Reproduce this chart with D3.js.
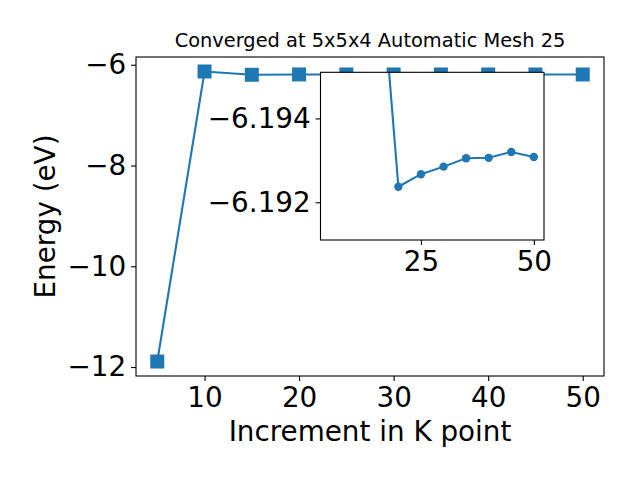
<!DOCTYPE html>
<html>
<head>
<meta charset="utf-8">
<script src="https://cdn.jsdelivr.net/npm/d3@7"></script>
<style>
  body { margin: 0; background: #fff; }
  text { font-family: "DejaVu Sans", sans-serif; fill: #000; }
  .axis path, .axis line { stroke: #000; stroke-width: 1.1; }
</style>
</head>
<body>
<div id="chart"></div>
<script>
// k point increments and total energies (eV)
var kpoints = [5, 10, 15, 20, 25, 30, 35, 40, 45, 50];
var energy = [-11.89, -6.134, -6.199, -6.19237, -6.19267, -6.19285, -6.19305, -6.19306, -6.19320, -6.19308];
var xTicks = [10, 20, 30, 40, 50];
var yTicks = [-12, -10, -8, -6];
var insetStart = 15;   // inset only plots from this k point on
var insetXTicks = [25, 50];
var insetYTicks = [-6.194, -6.192];
var insetYRange = [-6.1951, -6.1911];

var data = kpoints.map(function(k, i) { return {k: k, e: energy[i]}; });
var insetData = data.filter(function(d) { return d.k >= insetStart; });

var margin = {top: 57, right: 36, bottom: 104, left: 136},
    width = 640 - margin.left - margin.right,
    height = 480 - margin.top - margin.bottom;

var blue = "#1f77b4";

var svg = d3.select("#chart")
    .append("svg")
        .attr("width", 640)
        .attr("height", 480)
    .append("g")
        .attr("transform", "translate(" + margin.left + "," + margin.top + ")");

// matplotlib style 5% margins
var xExt = d3.extent(kpoints), yExt = d3.extent(energy);
var xPad = (xExt[1] - xExt[0]) * 0.05, yPad = (yExt[1] - yExt[0]) * 0.05;

var x = d3.scaleLinear().domain([xExt[0] - xPad, xExt[1] + xPad]).range([0, width]);
var y = d3.scaleLinear().domain([yExt[0] - yPad, yExt[1] + yPad]).range([height, 0]);

var line = d3.line()
    .x(function(d) { return x(d.k); })
    .y(function(d) { return y(d.e); });

svg.append("path")
    .attr("d", line(data))
    .style("fill", "none")
    .style("stroke", blue)
    .style("stroke-width", 2.1);

svg.selectAll(".sq")
    .data(data)
    .enter().append("path")
        .attr("class", "sq")
        .attr("transform", function(d) { return "translate(" + x(d.k) + "," + y(d.e) + ")"; })
        .attr("d", d3.symbol().type(d3.symbolSquare).size(196))
        .style("fill", blue);

svg.append("g")
    .attr("class", "axis")
    .attr("transform", "translate(0," + height + ")")
    .call(d3.axisBottom(x).tickValues(xTicks).tickSize(4.9).tickPadding(4.9))
    .call(function(g) { g.select(".domain").remove(); })
    .selectAll("text").style("font-size", "27.8px").attr("dy", "0.76em");

svg.append("g")
    .attr("class", "axis")
    .call(d3.axisLeft(y).tickValues(yTicks).tickFormat(d3.format("d")).tickSize(4.9).tickPadding(4.9))
    .call(function(g) { g.select(".domain").remove(); })
    .selectAll("text").style("font-size", "27.8px");

svg.append("rect")
    .attr("width", width)
    .attr("height", height)
    .style("fill", "none")
    .style("stroke", "#000")
    .style("stroke-width", 1.1);

svg.append("text")
    .attr("x", width / 2)
    .attr("y", 47.3 - margin.top)
    .attr("text-anchor", "middle")
    .style("font-size", "19.4px")
    .text("Converged at 5x5x4 Automatic Mesh 25");

svg.append("text")
    .attr("x", width / 2)
    .attr("y", 441 - margin.top)
    .attr("text-anchor", "middle")
    .style("font-size", "27.8px")
    .text("Increment in K point");

svg.append("text")
    .attr("transform", "translate(" + (55 - margin.left) + "," + (height / 2) + ") rotate(-90)")
    .attr("text-anchor", "middle")
    .style("font-size", "27.8px")
    .text("Energy (eV)");

// inset zoom on the converged values (y axis runs downward)
var inset = {left: 320.5, top: 72.3, width: 223.5, height: 167.7};

var ig = d3.select("svg").append("g")
    .attr("transform", "translate(" + inset.left + "," + inset.top + ")");

var xi = d3.scaleLinear().domain(x.domain()).range([0, inset.width]);
var yi = d3.scaleLinear().domain(insetYRange).range([0, inset.height]);

ig.append("rect")
    .attr("width", inset.width)
    .attr("height", inset.height)
    .style("fill", "#fff");

ig.append("clipPath")
    .attr("id", "insetClip")
    .append("rect")
        .attr("width", inset.width)
        .attr("height", inset.height);

var lineI = d3.line()
    .x(function(d) { return xi(d.k); })
    .y(function(d) { return yi(d.e); });

var plotI = ig.append("g").attr("clip-path", "url(#insetClip)");

plotI.append("path")
    .attr("d", lineI(insetData))
    .style("fill", "none")
    .style("stroke", blue)
    .style("stroke-width", 2.1);

plotI.selectAll("circle")
    .data(insetData)
    .enter().append("circle")
        .attr("cx", function(d) { return xi(d.k); })
        .attr("cy", function(d) { return yi(d.e); })
        .attr("r", 4.2)
        .style("fill", blue);

ig.append("g")
    .attr("class", "axis")
    .attr("transform", "translate(0," + inset.height + ")")
    .call(d3.axisBottom(xi).tickValues(insetXTicks).tickSize(4.9).tickPadding(4.9))
    .call(function(g) { g.select(".domain").remove(); })
    .selectAll("text").style("font-size", "27.8px").attr("dy", "0.76em");

ig.append("g")
    .attr("class", "axis")
    .call(d3.axisLeft(yi).tickValues(insetYTicks).tickFormat(d3.format(".3f")).tickSize(4.9).tickPadding(4.9))
    .call(function(g) { g.select(".domain").remove(); })
    .selectAll("text").style("font-size", "27.8px");

ig.append("rect")
    .attr("width", inset.width)
    .attr("height", inset.height)
    .style("fill", "none")
    .style("stroke", "#000")
    .style("stroke-width", 1.1);
</script>
</body>
</html>
